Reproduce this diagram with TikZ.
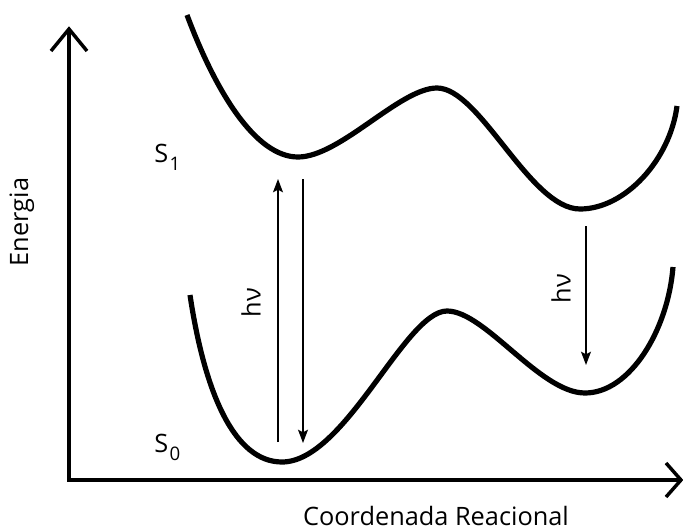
\documentclass[tikz,border=0pt]{standalone}
\usepackage{fontspec}
\setmainfont{Open Sans}
\usetikzlibrary{arrows.meta}
\begin{document}
\begin{tikzpicture}[x=0.75pt,y=-0.75pt,
  curve/.style={line width=3.9pt, line cap=butt, line join=round},
  axis/.style={line width=2.6pt, line join=miter},
  trans/.style={line width=1pt, -{Stealth[length=10pt,width=7.5pt,inset=2pt]}},
  lbl/.style={font=\fontsize{19}{22}\selectfont, inner sep=0pt}]
\useasboundingbox (0,0) rectangle (683,532);
% axes
\coordinate (ytip) at (69,29);
\coordinate (orig) at (69,480);
\coordinate (xtip) at (681,480);
\draw[axis] (ytip) -- (orig) -- (xtip);
\draw[axis] (ytip) ++(-18,22) -- (ytip) -- ++(18,22);
\draw[axis] (xtip) ++(-15,-17) -- (xtip) -- ++(-15,17);
% S1 curve
\draw[curve] (187,15) .. controls (215,90) and (255,157) .. (298,157)
  .. controls (340,157) and (400,88) .. (437,88)
  .. controls (480,88) and (530,209) .. (580,209)
  .. controls (625,209) and (670,160) .. (677,106);
% S0 curve
\draw[curve] (190,295) .. controls (205,395) and (235,462) .. (282,462)
  .. controls (345,462) and (405,311) .. (447,311)
  .. controls (485,311) and (540,393) .. (585,393)
  .. controls (630,393) and (668,330) .. (673,267);
% transitions
\coordinate (a1s) at (278,442);
\coordinate (a1e) at (278,179);
\coordinate (a2s) at (303,179);
\coordinate (a2e) at (303,443);
\coordinate (a3s) at (586,226);
\coordinate (a3e) at (586,365);
\draw[trans] (a1s) -- (a1e);
\draw[trans] (a2s) -- (a2e);
\draw[trans] (a3s) -- (a3e);
% labels
\node[lbl, rotate=90] (hv1) at (251,303) {h\kern0.5pt ν};
\node[lbl, rotate=90] (hv2) at (561,289) {h\kern0.5pt ν};
\node[lbl, anchor=base west] (s1) at (154,162) {S\kern1pt\raisebox{-6pt}{\fontsize{14}{16}\selectfont 1}};
\node[lbl, anchor=base west] (s0) at (154,452) {S\kern1pt\raisebox{-6pt}{\fontsize{14}{16}\selectfont 0}};
\node[lbl, rotate=90, anchor=base] (en) at (28,222) {Energia};
\node[lbl, anchor=base] (cr) at (436,525) {Coordenada Reacional};
\end{tikzpicture}
\end{document}
